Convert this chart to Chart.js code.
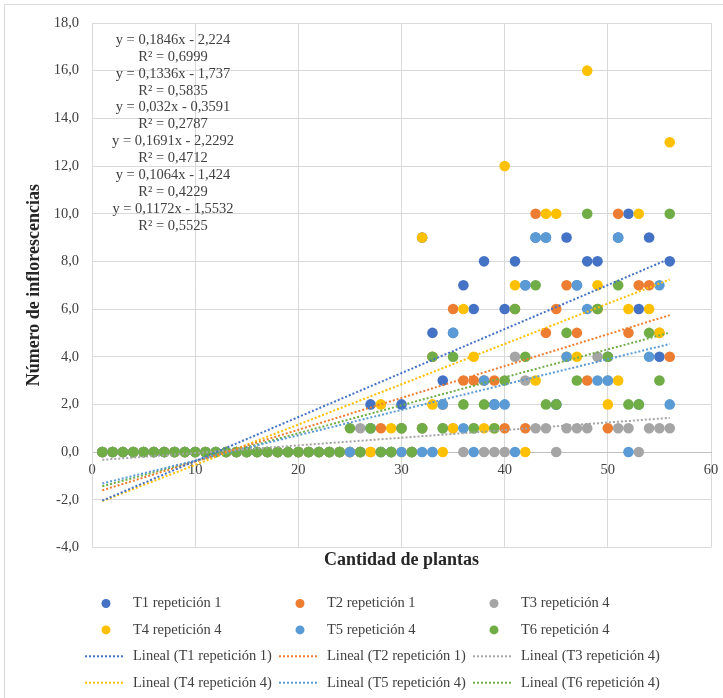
<!DOCTYPE html>
<html lang="es">
<head>
<meta charset="utf-8">
<title>Número de inflorescencias por cantidad de plantas</title>
<script src="https://cdn.jsdelivr.net/npm/chart.js@4.4.0/dist/chart.umd.min.js"></script>
<style>
  html, body { margin: 0; padding: 0; background: #fff; }
</style>
</head>
<body>
<canvas id="grafico" width="723" height="698"></canvas>
<script>
const plantas = [1,2,3,4,5,6,7,8,9,10,11,12,13,14,15,16,17,18,19,20,21,22,23,24,25,26,27,28,
  29,30,31,32,33,34,35,36,37,38,39,40,41,42,43,44,45,46,47,48,49,50,51,52,53,54,55,56];

const t1 = [0,0,0,0,0,0,0,0,0,0,0,0,0,0,0,0,0,0,0,0,0,0,0,0,
  0,0,2,0,0,2,0,9,5,3,5,7,6,8,2,6,8,7,9,9,2,9,7,8,8,4,9,10,6,9,4,8];
const t2 = [0,0,0,0,0,0,0,0,0,0,0,0,0,0,0,0,0,0,0,0,0,0,0,0,
  0,0,0,1,0,1,0,1,4,2,6,3,3,3,3,1,6,1,10,5,6,7,5,3,6,1,10,5,7,7,5,4];
const t3 = [0,0,0,0,0,0,0,0,0,0,0,0,0,0,0,0,0,0,0,0,0,0,0,0,
  0,1,1,0,0,1,0,1,0,1,1,0,1,0,0,0,4,3,1,1,0,1,1,1,4,3,1,1,0,1,1,1];
const t4 = [0,0,0,0,0,0,0,0,0,0,0,0,0,0,0,0,0,0,0,0,0,0,0,0,
  0,0,0,2,1,0,0,9,2,0,1,6,4,1,1,12,7,0,3,10,10,4,4,16,7,2,3,6,10,6,5,13];
const t5 = [0,0,0,0,0,0,0,0,0,0,0,0,0,0,0,0,0,0,0,0,0,0,0,0,
  0,0,1,0,0,0,0,0,0,2,5,1,0,3,2,2,0,7,9,9,2,4,7,6,3,3,9,0,2,4,7,2];
const t6 = [0,0,0,0,0,0,0,0,0,0,0,0,0,0,0,0,0,0,0,0,0,0,0,0,
  1,0,1,0,0,1,0,1,4,1,4,2,1,2,1,3,6,4,7,2,2,5,3,10,6,4,7,2,2,5,3,10];

const series = ['T1 repetición 1', 'T2 repetición 1', 'T3 repetición 4',
  'T4 repetición 4', 'T5 repetición 4', 'T6 repetición 4'];
const colores = ['#4472C4', '#ED7D31', '#A5A5A5', '#FFC000', '#5B9BD5', '#70AD47'];

// líneas de tendencia (ajuste lineal de cada serie)
const pendientes = [0.1846, 0.1336, 0.032, 0.1691, 0.1064, 0.1172];
const interceptos = [-2.224, -1.737, -0.3591, -2.2292, -1.424, -1.5532];
const r2 = [0.6999, 0.5835, 0.2787, 0.4712, 0.4229, 0.5525];

const valores = [t1, t2, t3, t4, t5, t6];
const fuente = '"Liberation Serif", "Times New Roman", serif';
const coma = v => String(v).replace('.', ',');

const puntos = valores.map((serie, i) => ({
  type: 'scatter',
  label: series[i],
  data: plantas.map((x, j) => ({ x: x, y: serie[j] })),
  backgroundColor: colores[i],
  borderColor: colores[i],
  pointRadius: 5.3,
  pointBorderWidth: 0,
  order: 6 - i
}));

const x0 = plantas[0], x1 = plantas[plantas.length - 1];
const tendencias = pendientes.map((m, i) => ({
  type: 'line',
  label: 'Lineal (' + series[i] + ')',
  data: [{ x: x0, y: m * x0 + interceptos[i] }, { x: x1, y: m * x1 + interceptos[i] }],
  borderColor: colores[i],
  borderWidth: 2,
  borderDash: [2, 2],
  pointRadius: 0,
  fill: false,
  order: 0
}));

// sin márgenes extra por las etiquetas de los extremos
const sinMargen = scale => { scale.paddingLeft = 0; scale.paddingRight = 0; };

// fondo y marco del gráfico
const marco = {
  id: 'marco',
  beforeDraw(chart) {
    const ctx = chart.ctx;
    ctx.save();
    ctx.fillStyle = '#fff';
    ctx.fillRect(0, 0, chart.width, chart.height);
    ctx.strokeStyle = '#D9D9D9';
    ctx.lineWidth = 1;
    ctx.strokeRect(4.5, 4.5, chart.width + 10, chart.height + 10);
    ctx.restore();
  }
};

// ecuaciones de las tendencias
const ecuaciones = {
  id: 'ecuaciones',
  afterDraw(chart) {
    const ctx = chart.ctx;
    ctx.save();
    ctx.font = '14.5px ' + fuente;
    ctx.fillStyle = '#404040';
    ctx.textAlign = 'center';
    ctx.textBaseline = 'middle';
    pendientes.forEach((m, i) => {
      const b = interceptos[i];
      const signo = b < 0 ? ' - ' : ' + ';
      const y = 40 + i * 2 * 16.9;
      ctx.fillText('y = ' + coma(m) + 'x' + signo + coma(Math.abs(b)), 173, y);
      ctx.fillText('R² = ' + coma(r2[i]), 173, y + 16.9);
    });
    ctx.restore();
  }
};

// leyenda en tres columnas
const leyenda = {
  id: 'leyenda',
  afterDraw(chart) {
    const ctx = chart.ctx;
    ctx.save();
    ctx.font = '14.5px ' + fuente;
    ctx.textBaseline = 'middle';
    series.forEach((nombre, i) => {
      const xt = 133 + (i % 3) * 194;
      const fila = Math.floor(i / 3);
      const yp = 603.5 + fila * 26.4;
      const yl = 603.5 + (fila + 2) * 26.4;
      ctx.fillStyle = colores[i];
      ctx.beginPath();
      ctx.arc(xt - 27, yp, 4.5, 0, Math.PI * 2);
      ctx.fill();
      ctx.fillStyle = '#404040';
      ctx.fillText(nombre, xt, yp);

      ctx.strokeStyle = colores[i];
      ctx.lineWidth = 2;
      ctx.setLineDash([2, 2]);
      ctx.beginPath();
      ctx.moveTo(xt - 48, yl);
      ctx.lineTo(xt - 8, yl);
      ctx.stroke();
      ctx.setLineDash([]);
      ctx.fillText('Lineal (' + nombre + ')', xt, yl);
    });
    ctx.restore();
  }
};

new Chart(document.getElementById('grafico'), {
  type: 'scatter',
  data: { datasets: [...puntos, ...tendencias] },
  options: {
    responsive: false,
    animation: false,
    events: [],
    layout: { padding: { top: 23, right: 12, bottom: 127, left: 0 } },
    plugins: {
      legend: { display: false },
      tooltip: { enabled: false }
    },
    scales: {
      x: {
        type: 'linear',
        min: 0,
        max: 60,
        position: { y: 0 },
        ticks: { stepSize: 10, padding: 9, color: '#404040', font: { family: fuente, size: 14.5 } },
        grid: { color: '#D9D9D9', drawTicks: false },
        border: { color: '#BFBFBF' },
        afterFit: sinMargen
      },
      xTitulo: {
        type: 'linear',
        position: 'bottom',
        ticks: { display: false },
        grid: { display: false, drawTicks: false },
        border: { display: false },
        title: {
          display: true,
          text: 'Cantidad de plantas',
          color: '#262626',
          font: { family: fuente, size: 18, weight: 'bold' },
          padding: { top: 2, bottom: 0 }
        },
        afterFit: sinMargen
      },
      y: {
        min: -4,
        max: 18,
        ticks: {
          stepSize: 2,
          padding: 13,
          color: '#404040',
          font: { family: fuente, size: 14.5 },
          callback: v => v.toFixed(1).replace('.', ',')
        },
        grid: { color: '#D9D9D9', drawTicks: false },
        border: { color: '#D9D9D9' },
        title: {
          display: true,
          text: 'Número de inflorescencias',
          color: '#262626',
          font: { family: fuente, size: 18, weight: 'bold' },
          padding: { top: 24, bottom: 0 }
        },
        afterFit(scale) { scale.width = 92; }
      }
    }
  },
  plugins: [marco, ecuaciones, leyenda]
});
</script>
</body>
</html>
